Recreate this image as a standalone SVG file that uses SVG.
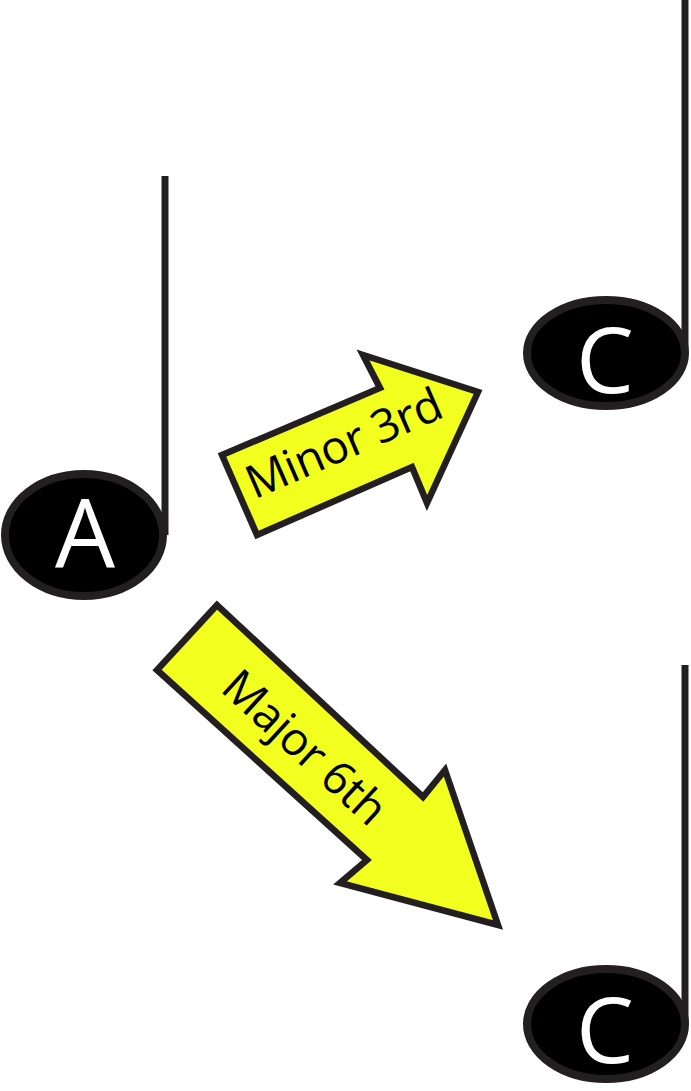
<svg xmlns="http://www.w3.org/2000/svg" width="691" height="1091" viewBox="0 0 691 1091">
<style>
.head{fill:#000;stroke:#231f20;stroke-width:8}
.stem{stroke:#231f20;stroke-width:7;fill:none}
.note{font-family:"Open Sans","Liberation Sans",sans-serif;fill:#fff;text-anchor:middle}
.arrow{fill:#f2ff1e;stroke:#231f20;stroke-width:6.5;stroke-linejoin:miter}
.lbl{font-family:"Open Sans","Liberation Sans",sans-serif;font-size:46px;letter-spacing:-0.5px;fill:#000;text-anchor:middle}
</style>
<rect width="691" height="1091" fill="#fff"/>
<g id="noteA">
<line class="stem" x1="165" y1="176" x2="165" y2="535"/>
<ellipse class="head" cx="84" cy="535" rx="79" ry="61"/>
<text class="note" x="85" y="568" font-size="95">A</text>
</g>
<g id="noteC1">
<line class="stem" x1="685" y1="0" x2="685" y2="352"/>
<ellipse class="head" cx="606" cy="353" rx="79" ry="53"/>
<text class="note" x="605" y="393" font-size="92">C</text>
</g>
<g id="noteC2">
<line class="stem" x1="685" y1="665" x2="685" y2="1023"/>
<ellipse class="head" cx="606" cy="1024" rx="79" ry="55"/>
<text class="note" x="605" y="1063" font-size="92">C</text>
</g>
<g id="connectors">
<g id="minor3rd">
<polygon class="arrow" points="222,455 257,535 412,467 427,503 478,392 363,355 380,388"/>
<text class="lbl" transform="translate(350,458) rotate(-23.5)">Minor 3rd</text>
</g>
<g id="major6th">
<polygon class="arrow" points="217,605 157,670 367,860 340,883 498,925 445,770 423,797"/>
<text class="lbl" transform="translate(294,759) rotate(42.5)">Major 6th</text>
</g>
</g>
</svg>
